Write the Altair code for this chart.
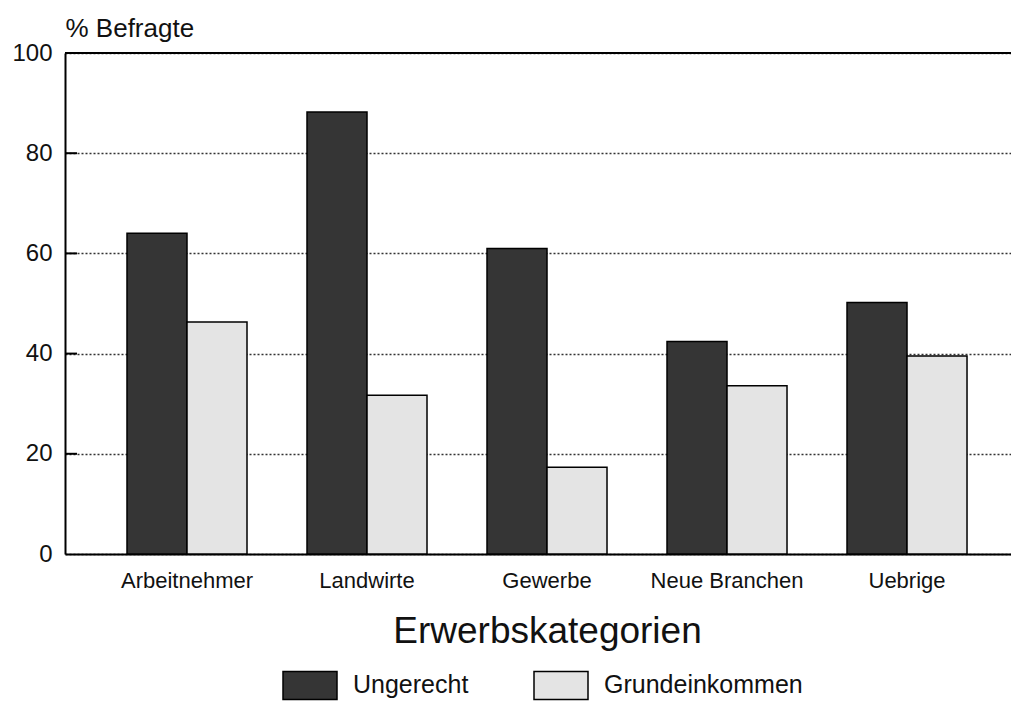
import altair as alt
import pandas as pd

categories = ["Arbeitnehmer", "Landwirte", "Gewerbe", "Neue Branchen", "Uebrige"]
series = ["Ungerecht", "Grundeinkommen"]
ungerecht = [64.0, 88.2, 61.0, 42.4, 50.2]
grundeinkommen = [46.3, 31.7, 17.3, 33.6, 39.5]
y_ticks = [0, 20, 40, 60, 80, 100]
inner_ticks = [20, 40, 60, 80]

rows = []
for c, u, g in zip(categories, ungerecht, grundeinkommen):
    rows.append({"Kategorie": c, "Serie": series[0], "Wert": u})
    rows.append({"Kategorie": c, "Serie": series[1], "Wert": g})
df = pd.DataFrame(rows)
ticks_df = pd.DataFrame({"Wert": inner_ticks})

FONT = "Liberation Sans"

x_enc = alt.X(
    "Kategorie:N",
    sort=categories,
    scale=alt.Scale(paddingInner=1/3, paddingOuter=0.2944, align=0.585),
    axis=alt.Axis(
        title="Erwerbskategorien", labelAngle=0, ticks=False,
        domainWidth=2, domainColor="black",
        labelFontSize=22, labelPadding=16, labelColor="#111",
        titleFontSize=37, titleFontWeight="normal", titlePadding=22,
        titleX=482, titleAlign="center",
        titleColor="#111",
    ),
)

bars = alt.Chart(df).mark_bar(stroke="black", strokeWidth=1.5).encode(
    x=x_enc,
    xOffset=alt.XOffset("Serie:N", sort=series,
                        scale=alt.Scale(paddingInner=0, paddingOuter=0)),
    y=alt.Y(
        "Wert:Q",
        scale=alt.Scale(domain=[0, 100], nice=False),
        axis=alt.Axis(
            values=y_ticks, title="% Befragte", titleAngle=0,
            titleAlign="left", titleBaseline="alphabetic",
            titleX=0, titleY=-17, titleFontSize=26, titleFontWeight="normal",
            titleColor="#111",
            labelFontSize=24, labelPadding=13, labelColor="#111", ticks=False,
            domainWidth=2, domainColor="black",
            gridDash=[2, 2], gridColor="#333", gridWidth=1.5,
        ),
    ),
    color=alt.Color(
        "Serie:N", sort=series,
        scale=alt.Scale(domain=series, range=["#353535", "#e4e4e4"]),
        legend=alt.Legend(
            title=None, orient="none", legendX=217, legendY=604,
            direction="horizontal",
            symbolType="M-1,-0.52H1V0.52H-1Z", symbolSize=2916,
            symbolStrokeColor="black", symbolStrokeWidth=1.5,
            symbolOpacity=1,
            labelFontSize=25, labelOffset=15, columnPadding=62,
            labelColor="#111", labelLimit=400,
        ),
    ),
)

tick_layer = alt.Chart(ticks_df).mark_rule(color="black", strokeWidth=2).encode(
    y=alt.Y("Wert:Q"),
    x=alt.value(0),
    x2=alt.value(12),
)

top_rule = alt.Chart(df).mark_rule(color="black", strokeWidth=2).encode(
    y=alt.YDatum(100)
)

chart = alt.layer(bars, tick_layer, top_rule).properties(
    width=946, height=501,
    padding={"left": 57, "top": 45, "right": 0, "bottom": 148},
    autosize=alt.AutoSizeParams(type="none"),
).configure(font=FONT).configure_view(stroke=None)

chart.save("out.html", embed_options={"renderer": "svg", "actions": False})
